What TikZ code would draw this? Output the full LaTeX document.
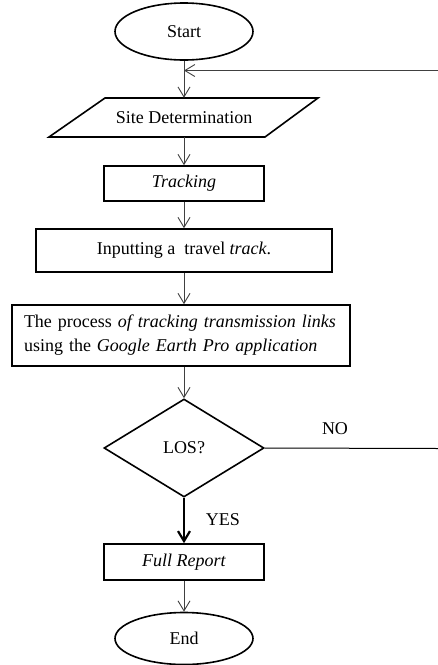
\documentclass[tikz,border=0pt]{standalone}
\usepackage{fontspec}
\setmainfont{Liberation Serif}
\usetikzlibrary{shapes.geometric,arrows.meta}
\tikzset{
  boxnode/.style={draw,line width=1.6pt,rectangle,inner sep=0pt},
  endnode/.style={draw,line width=1.6pt,ellipse,inner sep=0pt,minimum width=138pt},
  flow/.style={draw=black!75,line width=0.9pt,-{Straight Barb[length=10pt,width=12pt]}},
}
\begin{document}
\begin{tikzpicture}[x=1pt,y=-1pt,font=\fontsize{18}{24}\selectfont]
      \useasboundingbox (0,0) rectangle (438,665);
      \begin{scope}
        \node[endnode,minimum height=57pt] (start) at (184,31.5) {Start};
        \node[minimum width=160pt,minimum height=39pt,inner sep=0pt] (site) at (184,117.5) {Site Determination};
        \draw[line width=1.6pt] (105,98) -- (318,98) -- (265,137) -- (49,137) -- cycle;
        \node[boxnode,minimum width=160pt,minimum height=35pt] (track) at (184,183.5) {\textit{Tracking}};
        \node[boxnode,minimum width=296pt,minimum height=43pt] (input) at (184,250.5) {Inputting a~ travel \textit{track}.};
        \node[boxnode,text width=314pt,inner xsep=12pt,minimum height=61pt,align=left] (process) at (181,335.5)
          {The process \textit{of tracking transmission links}\\using the \textit{Google Earth Pro application}};
        \node[draw,diamond,line width=1.6pt,minimum width=160pt,minimum height=98pt,inner sep=0pt] (los) at (184,448) {LOS?};
        \node[boxnode,minimum width=160pt,minimum height=36pt] (report) at (184,562) {\textit{Full Report}};
        \node[endnode,minimum height=52pt] (end) at (184,638.5) {End};
        \node (no) at (335,429) {NO};
        \node (yes) at (223,520) {YES};
        \coordinate (back) at (438,70.5);
        \coordinate (noend) at (438,448.5);
        \draw[flow] (start) -- (site);
        \draw[flow] (back) -- (back -| start.south);
        \draw[flow] (site) -- (track);
        \draw[flow] (track) -- (input);
        \draw[flow] (input.south) -- (input.south |- process.north);
        \draw[flow] (process.south -| los.north) -- (los.north);
        \draw[line width=1pt] (los.east) -- (noend);
        \draw[flow,draw=black,line width=2.2pt] (los) -- (report);
        \draw[flow] (report) -- (end);
      \end{scope}
    \end{tikzpicture}
\end{document}
